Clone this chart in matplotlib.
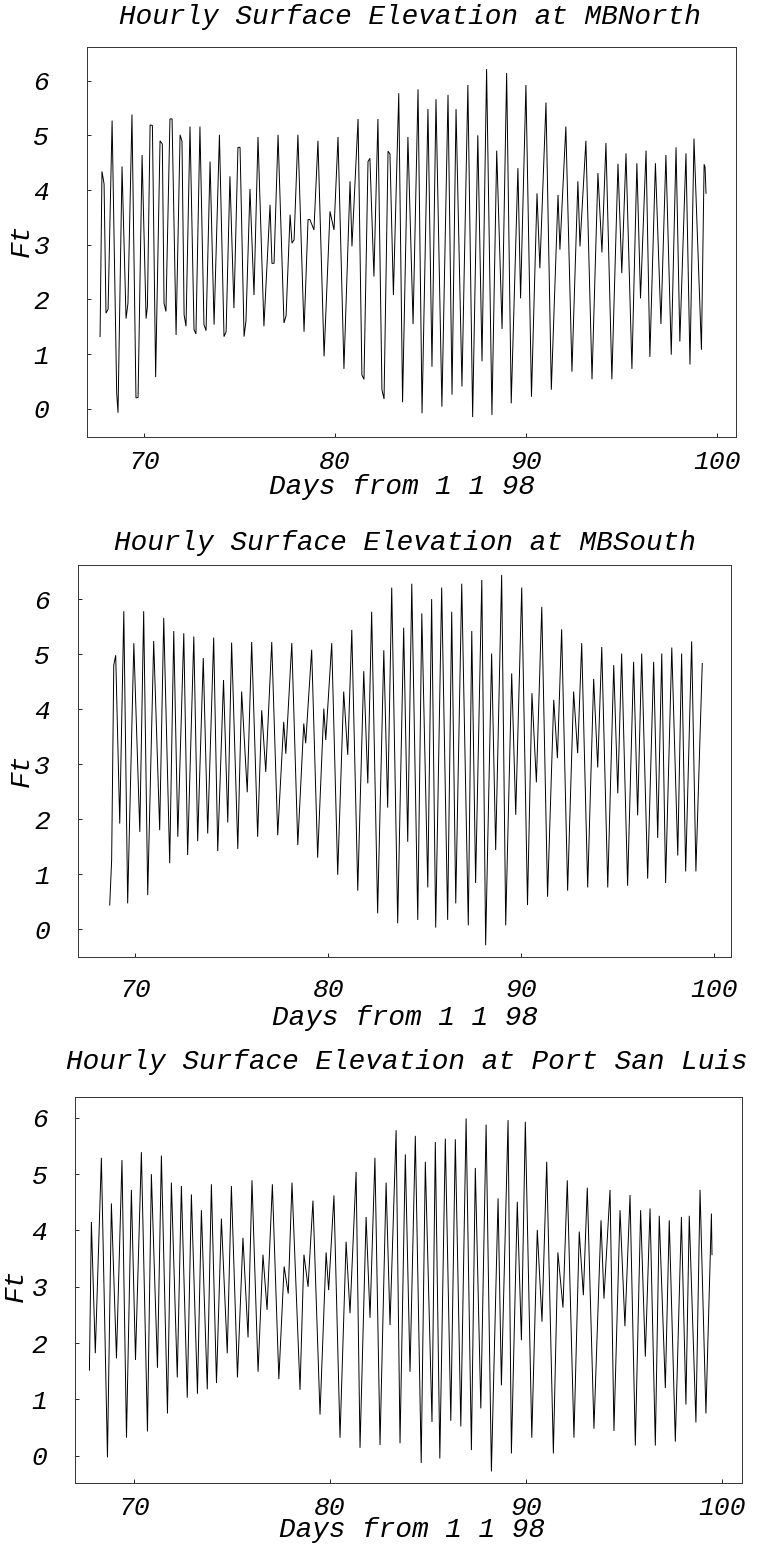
import matplotlib
matplotlib.use("Agg")
import matplotlib.pyplot as plt

# Turning points (day of year 1998, feet) of the hourly water-level records
north_days = [67.70, 67.80, 67.91, 68.01, 68.12, 68.33, 68.57, 68.64, 68.85, 69.06,
              69.16, 69.37, 69.58, 69.69, 69.90, 70.11, 70.18, 70.32, 70.44, 70.61,
              70.84, 70.96, 71.05, 71.15, 71.36, 71.47, 71.68, 71.89, 71.99, 72.10,
              72.20, 72.41, 72.62, 72.72, 72.93, 73.14, 73.25, 73.46, 73.67, 73.95,
              74.19, 74.30, 74.50, 74.71, 74.92, 75.03, 75.24, 75.34, 75.55, 75.76,
              75.97, 76.28, 76.60, 76.70, 76.81, 77.02, 77.33, 77.44, 77.65, 77.75,
              77.86, 78.06, 78.38, 78.59, 78.69, 78.90, 79.11, 79.43, 79.74, 79.95,
              80.16, 80.47, 80.79, 80.89, 81.21, 81.41, 81.52, 81.73, 81.83, 82.04,
              82.25, 82.46, 82.57, 82.78, 82.88, 83.06, 83.34, 83.54, 83.82, 84.09,
              84.35, 84.56, 84.87, 85.08, 85.29, 85.60, 85.92, 86.13, 86.34, 86.65,
              86.96, 87.21, 87.48, 87.70, 87.94, 88.22, 88.47, 88.75, 88.99, 89.23,
              89.58, 89.72, 90.00, 90.29, 90.58, 90.73, 91.05, 91.33, 91.68, 91.78,
              92.09, 92.41, 92.72, 92.83, 93.14, 93.46, 93.77, 93.98, 94.19, 94.50,
              94.82, 95.02, 95.24, 95.55, 95.81, 96.00, 96.29, 96.49, 96.78, 97.07,
              97.33, 97.61, 97.86, 98.06, 98.38, 98.59, 98.80, 99.19, 99.33, 99.38,
              99.43]
north_ft = [1.32, 4.34, 4.11, 1.75, 1.82, 5.27, 0.29, -0.07, 4.43, 1.65,
            1.93, 5.38, 0.20, 0.21, 4.64, 1.65, 1.87, 5.19, 5.18, 0.58,
            4.90, 4.84, 1.93, 1.78, 5.30, 5.30, 1.35, 5.01, 4.89, 1.72,
            1.51, 5.16, 1.45, 1.37, 5.16, 1.54, 1.43, 4.52, 1.54, 5.01,
            1.32, 1.41, 4.25, 1.84, 4.78, 4.78, 1.32, 1.61, 4.02, 2.08,
            4.97, 1.51, 3.73, 2.66, 2.66, 5.01, 1.57, 1.70, 3.55, 3.03,
            3.09, 5.01, 1.41, 3.46, 3.46, 3.27, 4.90, 0.96, 3.61, 3.27,
            4.97, 0.73, 4.16, 2.97, 5.30, 0.62, 0.54, 4.52, 4.58, 2.42,
            5.30, 0.35, 0.18, 4.71, 4.66, 2.08, 5.77, 0.12, 4.97, 1.55,
            5.84, -0.08, 5.48, 0.77, 5.66, 0.04, 5.74, 0.26, 5.48, 0.41,
            5.92, -0.15, 5.00, 0.87, 6.21, -0.11, 4.72, 1.46, 6.14, 0.10,
            4.40, 2.02, 5.92, 0.22, 3.94, 2.57, 5.60, 0.35, 3.91, 2.91,
            5.16, 0.68, 4.16, 2.97, 4.90, 0.54, 4.31, 2.86, 4.86, 0.54,
            4.48, 2.48, 4.67, 0.73, 4.49, 2.02, 4.72, 0.95, 4.49, 1.55,
            4.64, 0.99, 4.78, 1.23, 4.67, 0.81, 4.94, 1.08, 4.47, 4.42,
            3.94]

south_days = [68.67, 68.77, 68.88, 68.98, 69.19, 69.40, 69.60, 69.92, 70.23, 70.43,
              70.64, 70.95, 71.26, 71.47, 71.78, 71.99, 72.20, 72.51, 72.71, 73.03,
              73.23, 73.52, 73.75, 74.06, 74.27, 74.57, 74.79, 74.99, 75.31, 75.51,
              75.80, 76.03, 76.34, 76.55, 76.76, 77.07, 77.38, 77.69, 77.80, 78.11,
              78.42, 78.73, 78.83, 79.14, 79.45, 79.77, 79.87, 80.18, 80.49, 80.80,
              81.01, 81.22, 81.53, 81.84, 82.05, 82.25, 82.56, 82.88, 83.08, 83.29,
              83.60, 83.91, 84.12, 84.33, 84.64, 84.85, 85.16, 85.36, 85.57, 85.88,
              86.19, 86.40, 86.61, 86.92, 87.26, 87.44, 87.64, 87.96, 88.16, 88.47,
              88.68, 88.99, 89.20, 89.51, 89.72, 90.03, 90.33, 90.56, 90.79, 91.07,
              91.37, 91.69, 91.88, 92.10, 92.41, 92.72, 92.93, 93.14, 93.45, 93.76,
              93.97, 94.18, 94.49, 94.80, 95.01, 95.21, 95.52, 95.83, 96.04, 96.25,
              96.56, 96.87, 97.08, 97.29, 97.49, 97.81, 98.12, 98.32, 98.53, 98.84,
              99.06, 99.39]
south_ft = [0.44, 1.26, 4.80, 4.98, 1.92, 5.78, 0.47, 5.20, 1.77, 5.78,
            0.62, 5.24, 1.80, 5.66, 1.20, 5.42, 1.68, 5.38, 1.35, 5.32,
            1.60, 4.93, 1.74, 5.30, 1.42, 4.53, 1.94, 5.21, 1.46, 4.32,
            2.49, 5.22, 1.68, 3.98, 2.86, 5.22, 1.71, 3.77, 3.19, 5.20,
            1.53, 3.74, 3.38, 5.08, 1.30, 4.01, 3.44, 5.20, 0.99, 4.32,
            3.17, 5.44, 0.70, 4.69, 2.65, 5.77, 0.29, 5.07, 2.21, 6.21,
            0.11, 5.48, 1.59, 6.28, 0.17, 5.74, 0.76, 6.00, 0.03, 6.21,
            0.17, 5.77, 0.47, 6.28, 0.07, 5.42, 0.84, 6.35, -0.29, 5.01,
            1.44, 6.44, 0.07, 4.65, 2.08, 6.21, 0.44, 4.29, 2.67, 5.86,
            0.59, 4.17, 3.11, 5.45, 0.70, 4.32, 3.20, 5.20, 0.76, 4.55,
            2.94, 5.13, 0.76, 4.80, 2.47, 5.01, 0.79, 4.86, 2.07, 5.01,
            0.92, 4.86, 1.66, 5.01, 0.84, 5.12, 1.34, 5.01, 1.05, 5.23,
            1.05, 4.83]

psl_days = [67.74, 67.84, 68.04, 68.35, 68.66, 68.86, 69.12, 69.40, 69.63, 69.88,
            70.09, 70.39, 70.70, 70.90, 71.21, 71.41, 71.72, 71.92, 72.22, 72.43,
            72.73, 72.94, 73.25, 73.45, 73.75, 73.96, 74.22, 74.47, 74.77, 74.98,
            75.29, 75.57, 75.83, 76.03, 76.34, 76.59, 76.80, 77.07, 77.40, 77.67,
            77.88, 78.07, 78.48, 78.68, 78.89, 79.14, 79.50, 79.81, 79.94, 80.21,
            80.52, 80.83, 81.03, 81.34, 81.54, 81.85, 82.05, 82.30, 82.56, 82.87,
            83.07, 83.38, 83.58, 83.85, 84.09, 84.36, 84.66, 84.87, 85.21, 85.38,
            85.61, 85.89, 86.17, 86.40, 86.68, 86.95, 87.22, 87.42, 87.70, 87.97,
            88.24, 88.58, 88.75, 89.09, 89.26, 89.56, 89.77, 89.97, 90.30, 90.58,
            90.82, 91.06, 91.40, 91.63, 91.89, 92.11, 92.45, 92.72, 92.93, 93.13,
            93.47, 93.83, 93.98, 94.29, 94.49, 94.80, 95.05, 95.31, 95.58, 95.85,
            96.09, 96.33, 96.60, 96.80, 97.11, 97.31, 97.62, 97.93, 98.16, 98.33,
            98.67, 98.88, 99.18, 99.46, 99.49]
psl_ft = [1.52, 4.15, 1.82, 5.29, -0.03, 4.48, 1.73, 5.25, 0.32, 4.72,
          1.70, 5.39, 0.43, 5.00, 1.56, 5.33, 0.75, 4.85, 1.39, 4.79,
          1.03, 4.64, 1.10, 4.36, 1.18, 4.82, 1.29, 4.21, 1.82, 4.79,
          1.39, 3.87, 2.10, 4.89, 1.49, 3.57, 2.59, 4.82, 1.36, 3.36,
          2.88, 4.85, 1.17, 3.57, 3.00, 4.53, 0.73, 3.61, 2.94, 4.62,
          0.32, 3.80, 2.53, 5.04, 0.14, 4.24, 2.45, 5.29, 0.19, 4.85,
          2.32, 5.78, 0.22, 5.35, 1.49, 5.68, -0.13, 5.22, 0.60, 5.57,
          -0.05, 5.63, 0.62, 5.62, 0.52, 5.99, 0.10, 5.11, 0.84, 5.88,
          -0.28, 4.57, 1.25, 5.96, 0.04, 4.51, 2.05, 5.93, 0.32, 4.01,
          2.38, 5.22, 0.04, 3.61, 2.63, 4.89, 0.32, 3.98, 2.85, 4.76,
          0.48, 4.18, 2.79, 4.72, 0.44, 4.36, 2.30, 4.63, 0.18, 4.36,
          1.76, 4.39, 0.18, 4.26, 1.20, 4.18, 0.25, 4.24, 0.91, 4.26,
          0.59, 4.72, 0.75, 4.30, 3.57]

stations = ["MBNorth", "MBSouth", "Port San Luis"]
x_ticks = [70, 80, 90, 100]
y_ticks = [0, 1, 2, 3, 4, 5, 6]

W, H = 758, 1562
fig = plt.figure(figsize=(W / 100, H / 100), dpi=100)
font = dict(family="Liberation Mono", style="italic", color="black")


def px_axes(left, top, right, bottom):
    return fig.add_axes([left / W, 1 - bottom / H, (right - left) / W, (bottom - top) / H])


panels = [
    dict(box=(86.7, 46.7, 736.0, 437.3), xlim=(67.0, 101.0), ylim=(-0.52, 6.62),
         days=north_days, ft=north_ft, title_xy=(410, 17), xlabel_xy=(402, 487),
         ylabel_xy=(22, 240), ypad=27, xpad=9),
    dict(box=(77.7, 565.0, 731.0, 957.3), xlim=(67.01, 100.88), ylim=(-0.51, 6.62),
         days=south_days, ft=south_ft, title_xy=(405, 543), xlabel_xy=(405, 1018),
         ylabel_xy=(22, 770), ypad=20, xpad=15),
    dict(box=(75.3, 1097.0, 742.0, 1483.3), xlim=(67.02, 101.02), ylim=(-0.49, 6.37),
         days=psl_days, ft=psl_ft, title_xy=(407, 1062), xlabel_xy=(412, 1530),
         ylabel_xy=(16, 1285), ypad=20, xpad=9),
]

for station, p in zip(stations, panels):
    ax = px_axes(*p["box"])
    ax.plot(p["days"], p["ft"], color="black", lw=0.7, solid_joinstyle="miter")
    ax.set_xlim(*p["xlim"])
    ax.set_ylim(*p["ylim"])
    ax.set_xticks(x_ticks)
    ax.set_yticks(y_ticks)
    for s in ax.spines.values():
        s.set_linewidth(0.7)
        s.set_color("#333333")
    ax.tick_params(direction="in", length=3, width=0.6, top=False, right=False)
    ax.tick_params(axis="y", pad=p["ypad"])
    ax.tick_params(axis="x", pad=p["xpad"])
    for lab in ax.get_xticklabels() + ax.get_yticklabels():
        lab.set_fontfamily("Liberation Mono")
        lab.set_fontstyle("italic")
        lab.set_fontsize(19)
    tx, ty = p["title_xy"]
    fig.text(tx / W, 1 - ty / H, "Hourly Surface Elevation at " + station,
             ha="center", va="center", fontsize=20, **font)
    lx, ly = p["xlabel_xy"]
    fig.text(lx / W, 1 - ly / H, "Days from 1 1 98", ha="center", va="center",
             fontsize=20, **font)
    yx, yy = p["ylabel_xy"]
    fig.text(yx / W, 1 - yy / H, "Ft", ha="center", va="center", rotation=90,
             fontsize=20, **font)

fig.savefig("out.png", dpi=100)
